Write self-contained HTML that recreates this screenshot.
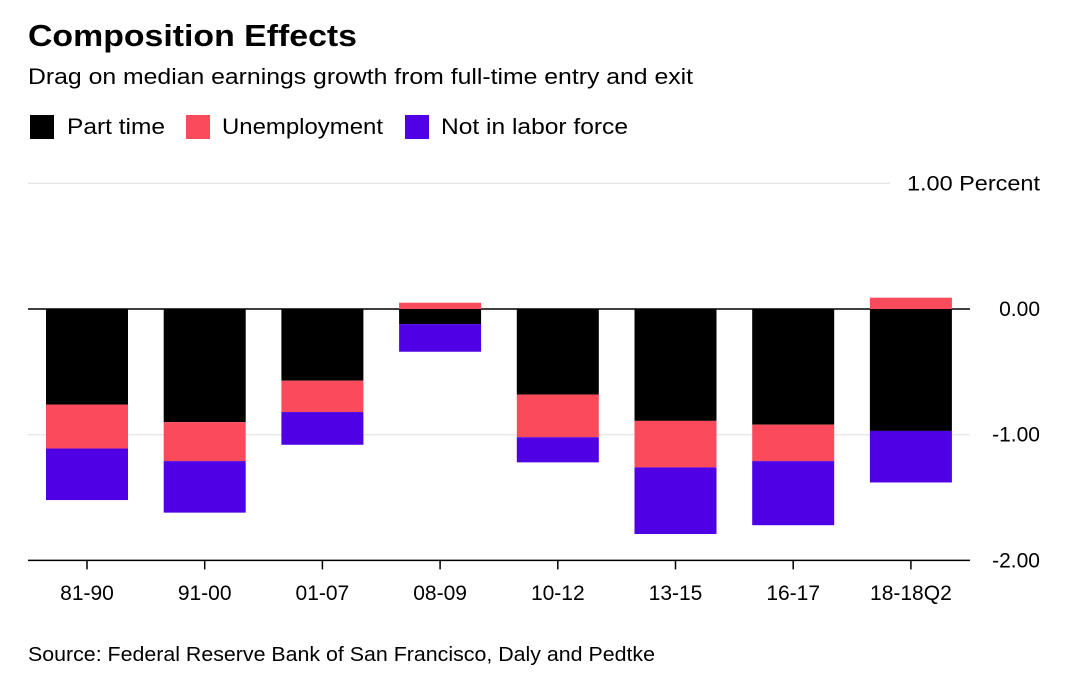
<!DOCTYPE html>
<html><head><meta charset="utf-8"><style>
body{margin:0;background:#fff;font-family:"Liberation Sans",sans-serif;}
#wrap{position:relative;width:1080px;height:681px;overflow:hidden;}
</style></head><body>
<div id="wrap">
<svg id="chart" width="1080" height="681" xmlns="http://www.w3.org/2000/svg">
<text x="28" y="46" font-size="31" font-weight="bold" fill="#000" textLength="329" lengthAdjust="spacingAndGlyphs">Composition Effects</text>
<text x="28" y="84" font-size="22" fill="#000" textLength="665" lengthAdjust="spacingAndGlyphs">Drag on median earnings growth from full-time entry and exit</text>
<g>
<rect x="30" y="115" width="24" height="24" fill="#000"/>
<text x="67" y="134" font-size="22" textLength="98" lengthAdjust="spacingAndGlyphs">Part time</text>
<rect x="186" y="115" width="24" height="24" fill="#fa4a5c"/>
<text x="222" y="134" font-size="22" textLength="161" lengthAdjust="spacingAndGlyphs">Unemployment</text>
<rect x="405" y="115" width="24" height="24" fill="#4f00e4"/>
<text x="441" y="134" font-size="22" textLength="187" lengthAdjust="spacingAndGlyphs">Not in labor force</text>
</g>
<g id="grid"></g><g id="bars"></g><g id="axes"></g>
<text x="28" y="661" font-size="20" textLength="627" lengthAdjust="spacingAndGlyphs">Source: Federal Reserve Bank of San Francisco, Daly and Pedtke</text>
</svg>
</div>
<script>
const categories=["81-90","91-00","01-07","08-09","10-12","13-15","16-17","18-18Q2"];
const partTime=[-0.76,-0.90,-0.57,-0.12,-0.68,-0.89,-0.92,-0.97];
const unemployment=[-0.35,-0.31,-0.25,0.05,-0.34,-0.37,-0.29,0.09];
const notInLabor=[-0.41,-0.41,-0.26,-0.22,-0.20,-0.53,-0.51,-0.41];
const tickValues=[1,0,-1,-2];
const tickLabels=["1.00 Percent","0.00","-1.00","-2.00"];
const NS="http://www.w3.org/2000/svg";
const y=v=>309-v*125.7;
const xc=i=>87+i*117.7;
const bw=82;
function mk(tag,attrs,parent){const e=document.createElementNS(NS,tag);for(const k in attrs)e.setAttribute(k,attrs[k]);document.getElementById(parent).appendChild(e);return e;}
tickValues.forEach((v,i)=>{
  const strong=(v===0||v===-2);
  const l=mk('line',{x1:28,x2:v===1?890:970,y1:y(v),y2:y(v),stroke:strong?'#000':'#ddd','stroke-width':strong?1.5:1},'grid');
  
  
  const t=mk('text',{x:1040,y:y(v)+7,'font-size':21,'text-anchor':'end'},'axes');
  if(v===1){t.setAttribute('textLength',133);t.setAttribute('lengthAdjust','spacingAndGlyphs');}
  t.textContent=tickLabels[i];
  
  
});
categories.forEach((c,i)=>{
  const x=xc(i)-bw/2;
  let neg=0,pos=0;
  [[partTime[i],'#000','part-time'],[unemployment[i],'#fa4a5c','unemployment'],[notInLabor[i],'#4f00e4','nilf']].forEach(([v,col,n])=>{
    let y0,y1;
    if(v<0){y0=y(neg);neg+=v;y1=y(neg);}else{y1=y(pos);pos+=v;y0=y(pos);}
    const r=mk('rect',{x:x,y:Math.min(y0,y1),width:bw,height:Math.abs(y1-y0),fill:col},'bars');
    
    
  });
  const tk=mk('line',{x1:xc(i),x2:xc(i),y1:y(-2),y2:y(-2)+9,stroke:'#000','stroke-width':1.5},'axes');
  
  
  const t=mk('text',{x:xc(i),y:600,'font-size':21,'text-anchor':'middle'},'axes');
  t.textContent=c;
  
  
});
</script>
</body></html>
